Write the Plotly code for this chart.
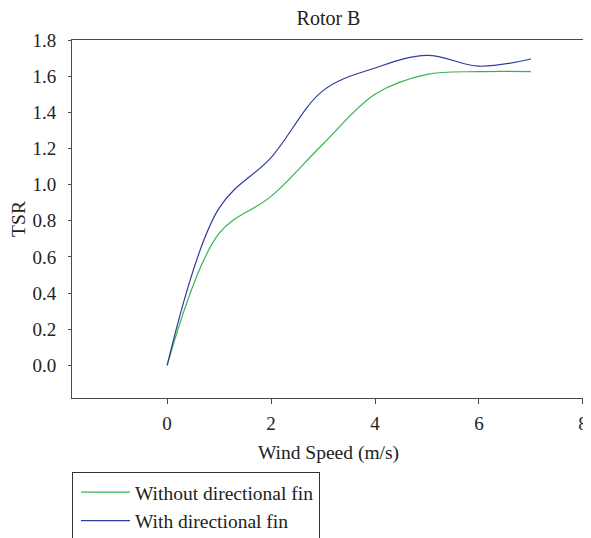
import plotly.graph_objects as go

wind_speed = [0, 1, 2, 3, 4, 5, 6, 7]
tsr_without_fin = [0.0, 0.73, 0.935, 1.225, 1.50, 1.61, 1.625, 1.625]
tsr_with_fin = [0.0, 0.87, 1.15, 1.52, 1.645, 1.715, 1.655, 1.695]
series_names = ["Without directional fin", "With directional fin"]
x_ticks = [0, 2, 4, 6, 8]
y_ticks = [0.0, 0.2, 0.4, 0.6, 0.8, 1.0, 1.2, 1.4, 1.6, 1.8]

FONT = "Liberation Serif, Times New Roman, serif"
AXIS_COLOR = "#4a4a4a"
TEXT_COLOR = "#222222"

# page body has an 8px offset; figure coordinates compensate for it
fig = go.Figure()
fig.add_trace(go.Scatter(
    x=wind_speed, y=tsr_without_fin, name=series_names[0], mode="lines",
    line=dict(color="#33b548", width=1.2, shape="spline", smoothing=1.0),
))
fig.add_trace(go.Scatter(
    x=wind_speed, y=tsr_with_fin, name=series_names[1], mode="lines",
    line=dict(color="#2e3d9c", width=1.2, shape="spline", smoothing=1.0),
))

fig.update_layout(
    width=591, height=538,
    margin=dict(l=64, r=14, t=32, b=148, autoexpand=False),
    paper_bgcolor="white", plot_bgcolor="white",
    font=dict(family=FONT, size=19, color=TEXT_COLOR),
    title=dict(text="Rotor B", x=0.5, xref="paper", xanchor="center",
               y=1 - 10 / 538, yref="container", yanchor="middle",
               font=dict(family=FONT, size=20, color=TEXT_COLOR)),
    showlegend=True,
    legend=dict(
        x=0, xref="paper", xanchor="left",
        y=(390 - 464) / 358, yref="paper", yanchor="top",
        bordercolor="#333333", borderwidth=1, bgcolor="white",
        font=dict(family=FONT, size=19.5, color=TEXT_COLOR),
        itemwidth=49, indentation=3, tracegroupgap=0,
    ),
)

fig.update_xaxes(
    range=[-1.83, 8.04], tickmode="array", tickvals=x_ticks,
    ticktext=[str(v) for v in x_ticks],
    ticks="outside", ticklen=5, tickwidth=1, tickcolor=AXIS_COLOR,
    ticklabelstandoff=3,
    showline=True, linecolor=AXIS_COLOR, linewidth=1, mirror=True,
    showgrid=False, zeroline=False,
    tickfont=dict(family=FONT, size=19, color=TEXT_COLOR),
    title=dict(text="Wind Speed (m/s)", standoff=12,
               font=dict(family=FONT, size=19.5, color=TEXT_COLOR)),
    automargin=False,
)
fig.update_yaxes(
    range=[-0.18, 1.8], tickmode="array", tickvals=y_ticks,
    ticktext=[f"{v:.1f}" for v in y_ticks],
    ticks="outside", ticklen=3, tickwidth=1, tickcolor=AXIS_COLOR,
    ticklabelstandoff=8,
    showline=True, linecolor=AXIS_COLOR, linewidth=1, mirror=True,
    showgrid=False, zeroline=False,
    tickfont=dict(family=FONT, size=19, color=TEXT_COLOR),
    title=dict(text="TSR", standoff=11,
               font=dict(family=FONT, size=19.5, color=TEXT_COLOR)),
    automargin=False,
)

fig.write_html("out.html")
